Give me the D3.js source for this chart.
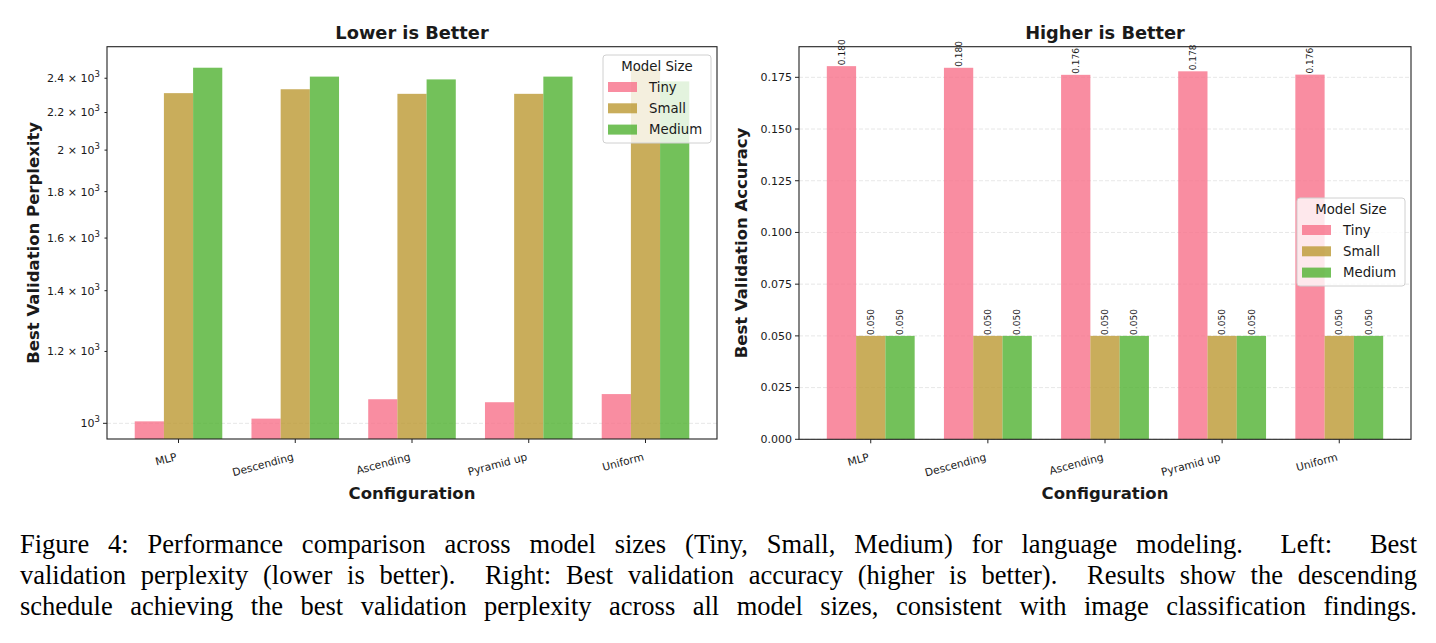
<!DOCTYPE html>
<html>
<head>
<meta charset="utf-8">
<script src="https://cdn.jsdelivr.net/npm/d3@7"></script>
<style>
  body { margin: 0; background: #fff; }
  text { font-family: "DejaVu Sans", sans-serif; fill: #1a1a1a; }
  .caption text { font-family: "Liberation Serif", "Times New Roman", serif; fill: #000; }
</style>
</head>
<body>
<div id="chart"></div>
<script>
// data
var configs = ["MLP", "Descending", "Ascending", "Pyramid up", "Uniform"];
var sizes = ["Tiny", "Small", "Medium"];
var colors = ["#f77189", "#bb9832", "#50b131"];

var pplTiny   = [1005, 1012, 1063, 1055, 1077];
var pplSmall  = [2311, 2334, 2307, 2307, 2462];
var pplMedium = [2465, 2410, 2393, 2410, 2381];

var accTiny   = [0.1804, 0.1796, 0.1762, 0.1779, 0.1763];
var accSmall  = [0.050, 0.050, 0.050, 0.050, 0.050];
var accMedium = [0.050, 0.050, 0.050, 0.050, 0.050];

var pplTicks = [1000, 1200, 1400, 1600, 1800, 2000, 2200, 2400];
var accTicks = [0, 0.025, 0.05, 0.075, 0.1, 0.125, 0.15, 0.175];

var captionLines = [
  "Figure 4: Performance comparison across model sizes (Tiny, Small, Medium) for language modeling.  Left:  Best",
  "validation perplexity (lower is better).  Right: Best validation accuracy (higher is better).  Results show the descending",
  "schedule achieving the best validation perplexity across all model sizes, consistent with image classification findings."
];

var svg = d3.select("#chart")
  .append("svg")
    .attr("width", 1436)
    .attr("height", 643);

function drawPanel(p) {
  var x = d3.scaleLinear()
    .domain([-0.6125, 4.6125])
    .range([p.left, p.right]);
  var bw = x(0.25) - x(0);

  var g = svg.append("g");

  // grid (major ticks only)
  g.selectAll(".grid")
    .data(p.gridTicks)
    .enter()
    .append("line")
      .attr("x1", p.left).attr("x2", p.right)
      .attr("y1", function(d) { return p.y(d); })
      .attr("y2", function(d) { return p.y(d); })
      .attr("stroke", "#b0b0b0")
      .attr("stroke-opacity", 0.35)
      .attr("stroke-dasharray", "4,2")
      .attr("stroke-width", 0.9);

  // bars
  p.series.forEach(function(vals, s) {
    g.selectAll(".bar" + s)
      .data(vals)
      .enter()
      .append("rect")
        .attr("x", function(d, i) { return x(i + (s - 1) * 0.25 - 0.125); })
        .attr("y", function(d) { return p.y(d); })
        .attr("width", bw)
        .attr("height", function(d) { return p.bottom - p.y(d); })
        .attr("fill", colors[s])
        .attr("fill-opacity", 0.8);

    if (p.valueLabels) {
      g.selectAll(".val" + s)
        .data(vals)
        .enter()
        .append("text")
          .attr("transform", function(d, i) {
            return "translate(" + x(i + (s - 1) * 0.25) + "," + (p.y(d) - 1) + ") rotate(-90)";
          })
          .attr("dy", "0.35em")
          .attr("font-size", 9)
          .text(function(d) { return d3.format(".3f")(d); });
    }
  });

  // spines
  g.append("rect")
    .attr("x", p.left).attr("y", p.top)
    .attr("width", p.right - p.left).attr("height", p.bottom - p.top)
    .attr("fill", "none")
    .attr("stroke", "#222")
    .attr("stroke-width", 1.1);

  // y ticks
  var yt = g.selectAll(".ytick")
    .data(p.ticks)
    .enter()
    .append("g")
      .attr("transform", function(d) { return "translate(0," + p.y(d) + ")"; });
  yt.append("line")
    .attr("x1", p.left).attr("x2", function(d) { return p.left - (p.isMajor(d) ? 4 : 2.5); })
    .attr("stroke", "#222").attr("stroke-width", 1);
  p.tickFormat(yt.append("text")
    .attr("x", p.left - 7)
    .attr("dy", "0.35em")
    .attr("text-anchor", "end")
    .attr("font-size", 11));

  // x ticks
  var xt = g.selectAll(".xtick")
    .data(configs)
    .enter()
    .append("g")
      .attr("transform", function(d, i) { return "translate(" + x(i) + "," + p.bottom + ")"; });
  xt.append("line")
    .attr("y2", 4)
    .attr("stroke", "#222").attr("stroke-width", 1);
  xt.append("text")
    .attr("transform", "translate(-1,21) rotate(-15)")
    .attr("text-anchor", "end")
    .attr("font-size", 10.7)
    .text(function(d) { return d; });

  // titles
  var cx = (p.left + p.right) / 2;
  g.append("text")
    .attr("x", cx).attr("y", 39)
    .attr("text-anchor", "middle")
    .attr("font-size", 17.8)
    .attr("font-weight", "bold")
    .text(p.title);
  g.append("text")
    .attr("x", cx).attr("y", 499)
    .attr("text-anchor", "middle")
    .attr("font-size", 16.5)
    .attr("font-weight", "bold")
    .text("Configuration");
  g.append("text")
    .attr("transform", "translate(" + p.ylabelX + "," + ((p.top + p.bottom) / 2) + ") rotate(-90)")
    .attr("text-anchor", "middle")
    .attr("font-size", 16.5)
    .attr("font-weight", "bold")
    .text(p.ylabel);

  // legend
  var lg = g.append("g").attr("transform", "translate(" + p.legend[0] + "," + p.legend[1] + ")");
  lg.append("rect")
    .attr("width", 108).attr("height", 88).attr("rx", 3)
    .attr("fill", "#fff").attr("fill-opacity", 0.8)
    .attr("stroke", "#d0d0d0").attr("stroke-width", 1);
  lg.append("text")
    .attr("x", 54).attr("y", 11).attr("dy", "0.35em")
    .attr("text-anchor", "middle")
    .attr("font-size", 13.3)
    .text("Model Size");
  sizes.forEach(function(name, s) {
    var yy = 32 + s * 21.3;
    lg.append("rect")
      .attr("x", 5).attr("y", yy - 5).attr("width", 29).attr("height", 10)
      .attr("fill", colors[s]).attr("fill-opacity", 0.8);
    lg.append("text")
      .attr("x", 46).attr("y", yy).attr("dy", "0.35em")
      .attr("font-size", 13.3)
      .text(name);
  });
}

function logLabel(sel) {
  sel.each(function(d) {
    var t = d3.select(this);
    var m = d / 1000;
    t.append("tspan").text(m === 1 ? "10" : (m + " \u00d7 10"));
    t.append("tspan").attr("dy", -5).attr("font-size", 8.5).text("3");
  });
}

drawPanel({
  left: 107, right: 717, top: 46.7, bottom: 439,
  y: d3.scaleLog().domain([961, 2600]).range([439, 46.7]),
  series: [pplTiny, pplSmall, pplMedium],
  ticks: pplTicks,
  gridTicks: [1000],
  isMajor: function(d) { return d === 1000; },
  tickFormat: logLabel,
  valueLabels: false,
  title: "Lower is Better",
  ylabel: "Best Validation Perplexity",
  ylabelX: 39,
  legend: [603, 55]
});

drawPanel({
  left: 799, right: 1411, top: 46.7, bottom: 439.3,
  y: d3.scaleLinear().domain([0, 0.1898]).range([439.3, 46.7]),
  series: [accTiny, accSmall, accMedium],
  ticks: accTicks,
  gridTicks: accTicks,
  isMajor: function(d) { return true; },
  tickFormat: function(sel) { sel.text(function(d) { return d3.format(".3f")(d); }); },
  valueLabels: true,
  title: "Higher is Better",
  ylabel: "Best Validation Accuracy",
  ylabelX: 747,
  legend: [1297, 198]
});

// caption, justified between x=20 and x=1417
var cap = svg.append("g").attr("class", "caption");
captionLines.forEach(function(line, i) {
  var t = cap.append("text")
    .attr("x", 20)
    .attr("y", 553 + i * 31)
    .attr("font-size", 26.5)
    .attr("xml:space", "preserve")
    .style("white-space", "pre")
    .text(line);
  var natural = t.node().getComputedTextLength();
  var spaces = (line.match(/ /g) || []).length;
  t.attr("word-spacing", (1397 - natural) / spaces);
});
</script>
</body>
</html>
